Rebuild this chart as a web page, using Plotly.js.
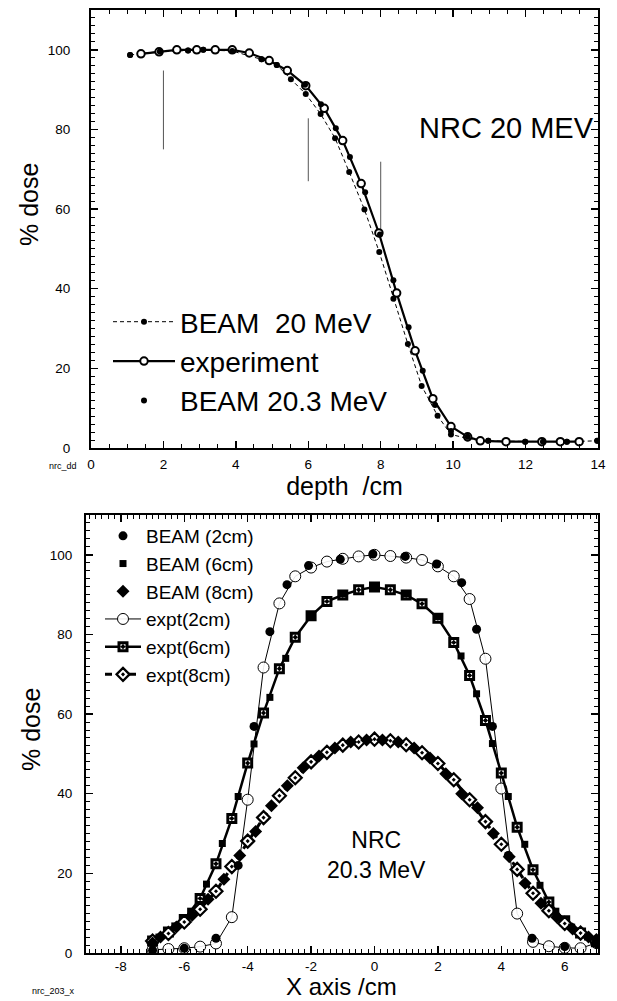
<!DOCTYPE html>
<html>
<head>
<meta charset="utf-8">
<script src="https://cdn.plot.ly/plotly-3.0.1.min.js"></script>
<style>html,body{margin:0;padding:0;background:#fff;}#chart{width:617px;height:1001px;}</style>
</head>
<body>
<div id="chart"></div>
<script>
// ---------- Top panel: depth-dose (NRC 20 MeV) ----------
const depthBeam20 = [1.08, 1.9, 2.68, 3.1, 3.9, 4.71, 5.13, 5.52, 5.93, 6.34, 6.74, 7.13, 7.55, 7.96, 8.35, 8.75, 9.13, 9.57, 9.94, 10.4, 10.97, 11.99, 12.48, 13.14, 13.98];
const doseBeam20  = [98.7, 99.6, 99.8, 100, 99.7, 97.6, 96.2, 92.6, 88.9, 83.9, 77.8, 69.3, 59.9, 49.2, 37.5, 26.1, 15.6, 8.1, 3.4, 2.4, 1.8, 1.6, 1.6, 1.6, 1.8];

const depthExpt = [1.38, 1.88, 2.37, 2.92, 3.43, 3.9, 4.37, 4.92, 5.42, 5.93, 6.44, 6.95, 7.46, 7.95, 8.44, 8.95, 9.44, 9.94, 10.4, 10.75, 11.46, 12.45, 12.96, 13.48];
const doseExpt  = [99.0, 99.5, 100, 100, 100, 100, 99.2, 97.3, 94.8, 91.0, 85.3, 77.2, 66.4, 54.0, 38.9, 24.4, 12.4, 5.4, 2.8, 1.8, 1.6, 1.6, 1.6, 1.6];

const depthBeam203 = [1.08, 1.9, 2.68, 3.1, 3.9, 4.71, 5.13, 5.91, 6.35, 6.76, 7.15, 7.57, 7.98, 8.35, 8.77, 9.16, 9.5, 9.94, 10.4, 10.97, 11.99, 12.48, 13.14, 13.98];
const doseBeam203  = [98.7, 99.6, 99.8, 100, 99.7, 97.6, 96.2, 91.2, 86.3, 80.3, 73.1, 64.2, 53.6, 42.1, 30.3, 19.4, 10.8, 4.3, 2.8, 1.8, 1.6, 1.6, 1.6, 1.8];

// thin vertical marks at the profile depths
const markDepth  = [2, 6, 8];
const markTop    = [94.8, 82.8, 71.9];
const markBottom = [75, 67, 53];

// ---------- Bottom panel: lateral profiles (NRC 20.3 MeV) ----------
const xExpt = [-7, -6.5, -6, -5.5, -5, -4.5, -4, -3.5, -3, -2.5, -2, -1.5, -1, -0.5, 0, 0.5, 1, 1.5, 2, 2.5, 3, 3.5, 4, 4.5, 5, 5.5, 6, 6.5, 7];
const expt2cm = [0.8, 1.0, 1.2, 1.6, 2.4, 9.0, 38.5, 71.7, 87.8, 94.6, 96.8, 98.3, 99.0, 99.6, 100, 99.7, 99.3, 98.7, 97.1, 94.6, 88.9, 73.9, 41.3, 9.9, 2.8, 1.7, 1.3, 1.2, 2.5];
const expt6cm = [3.0, 5.3, 8.4, 13.7, 22.4, 33.8, 47.7, 60.3, 71.4, 79.3, 84.7, 88.3, 89.9, 91.2, 91.9, 91.2, 89.9, 87.7, 84.1, 78.0, 69.7, 58.4, 45.2, 31.6, 20.9, 12.8, 8.1, 5.0, 2.8];
const expt8cm = [3.0, 4.9, 7.8, 11.0, 15.5, 21.7, 28.1, 34.0, 39.5, 44.0, 48.0, 50.4, 52.2, 53.0, 53.7, 53.3, 52.3, 50.3, 47.6, 43.5, 38.5, 33.0, 27.3, 21.0, 15.0, 10.6, 7.4, 5.0, 3.0];

const xBeam2cm = [-7, -6, -5, -4.3, -3.8, -3.3, -2.76, -2.08, -1.08, -0.05, 0.97, 1.96, 2.75, 3.22, 3.72, 4.22, 4.97, 6, 7];
const beam2cm  = [0.7, 1.2, 3.7, 22.0, 56.9, 80.7, 92.5, 97.3, 98.9, 100.2, 99.6, 97.7, 93.0, 81.3, 56.9, 24.5, 3.7, 1.6, 3.3];

const xBeam6cm = [-7, -6.8, -6.3, -5.8, -5.3, -4.8, -4.3, -3.8, -3.3, -2.8, -2, -1, 0, 1, 2, 2.73, 3.22, 3.72, 4.22, 4.74, 5.22, 5.72, 6.22, 6.72, 7];
const beam6cm  = [2.5, 4.0, 6.8, 10.5, 17.3, 27.5, 39.3, 52.5, 64.2, 74.0, 84.7, 90.2, 92.0, 90.2, 84.5, 74.6, 65.1, 52.6, 39.3, 27.3, 17.0, 10.5, 6.5, 4.0, 2.5];

const xBeam8cm = [-7, -6.75, -6.25, -5.75, -5.25, -4.75, -4.25, -3.75, -3.25, -2.75, -2.25, -1.75, -1.25, -0.75, -0.25, 0.25, 0.75, 1.25, 1.75, 2.25, 2.75, 3.25, 3.75, 4.25, 4.75, 5.25, 5.75, 6.25, 6.75, 7];
const beam8cm  = [2.5, 4.0, 6.5, 9.5, 13.5, 18.5, 24.5, 30.5, 37.0, 42.0, 46.5, 49.5, 51.5, 53.0, 53.5, 53.5, 53.0, 51.5, 49.0, 45.0, 40.0, 36.5, 30.0, 24.2, 17.5, 12.5, 9.0, 6.0, 4.0, 2.5];

// tick labels of the lateral axis (plain hyphen minus, as in the original)
const xProfileTickVals = [-8, -6, -4, -2, 0, 2, 4, 6];
const xProfileTickText = ['-8', '-6', '-4', '-2', '0', '2', '4', '6'];

// ---------- build ----------
const FONT = 'Liberation Sans, Arial, Helvetica, sans-serif';
const W = 617, H = 1001;
const px = v => v / W;
const py = v => 1 - v / H;

const markX = [], markY = [];
markDepth.forEach((d, i) => { markX.push(d, d, null); markY.push(markBottom[i], markTop[i], null); });

const traces = [
  {x: markX, y: markY, xaxis: 'x', yaxis: 'y', mode: 'lines', line: {color: '#555', width: 1}, showlegend: false, hoverinfo: 'skip'},
  {x: depthBeam20, y: doseBeam20, xaxis: 'x', yaxis: 'y', name: 'BEAM  20 MeV', mode: 'lines+markers',
   line: {color: '#000', width: 1, dash: '4px,3px'}, marker: {symbol: 'circle', size: 6, color: '#000'}, legend: 'legend', legendrank: 1},
  {x: depthExpt, y: doseExpt, xaxis: 'x', yaxis: 'y', name: 'experiment', mode: 'lines+markers',
   line: {color: '#000', width: 2.2}, marker: {symbol: 'circle', size: 7.5, color: '#fff', line: {color: '#000', width: 2}}, legend: 'legend', legendrank: 2},
  {x: depthBeam203, y: doseBeam203, xaxis: 'x', yaxis: 'y', name: 'BEAM 20.3 MeV', mode: 'markers',
   marker: {symbol: 'circle', size: 6, color: '#000'}, legend: 'legend', legendrank: 3},

  {x: xExpt, y: expt2cm, xaxis: 'x2', yaxis: 'y2', name: 'expt(2cm)', mode: 'lines+markers',
   line: {color: '#000', width: 1}, marker: {symbol: 'circle', size: 11, color: 'rgba(255,255,255,0.9)', line: {color: '#000', width: 1}}, legend: 'legend2', legendrank: 4},
  {x: xExpt, y: expt6cm, xaxis: 'x2', yaxis: 'y2', name: 'expt(6cm)', mode: 'lines+markers',
   line: {color: '#000', width: 2.5}, marker: {symbol: 'square-dot', size: 8, color: '#fff', line: {color: '#000', width: 3}}, legend: 'legend2', legendrank: 5},
  {x: xExpt, y: expt8cm, xaxis: 'x2', yaxis: 'y2', name: 'expt(8cm)', mode: 'lines+markers',
   line: {color: '#000', width: 3, dash: '7px,5px'}, marker: {symbol: 'diamond-dot', size: 10, color: '#fff', line: {color: '#000', width: 2.2}}, legend: 'legend2', legendrank: 6},
  {x: xBeam2cm, y: beam2cm, xaxis: 'x2', yaxis: 'y2', name: 'BEAM (2cm)', mode: 'markers',
   marker: {symbol: 'circle', size: 9, color: '#000'}, legend: 'legend2', legendrank: 1},
  {x: xBeam6cm, y: beam6cm, xaxis: 'x2', yaxis: 'y2', name: 'BEAM (6cm)', mode: 'markers',
   marker: {symbol: 'square', size: 7, color: '#000'}, legend: 'legend2', legendrank: 2},
  {x: xBeam8cm, y: beam8cm, xaxis: 'x2', yaxis: 'y2', name: 'BEAM (8cm)', mode: 'markers',
   marker: {symbol: 'diamond', size: 10, color: '#000'}, legend: 'legend2', legendrank: 3}
];

function axisBase(extra) {
  return Object.assign({
    showgrid: false, zeroline: false, showline: true, linecolor: '#000', linewidth: 2,
    mirror: 'allticks', ticks: 'inside', ticklen: 7, tickwidth: 1.5, tickcolor: '#000',
    tickmode: 'linear', tickfont: {family: FONT, size: 13.5, color: '#000'},
    fixedrange: true
  }, extra);
}

const layout = {
  width: W, height: H,
  margin: {l: 0, r: 0, t: 0, b: 0},
  paper_bgcolor: '#fff', plot_bgcolor: '#fff',
  font: {family: FONT, color: '#000'},
  xaxis: axisBase({domain: [px(91), px(598)], range: [0, 14], anchor: 'y', tick0: 0, dtick: 2,
    minor: {dtick: 0.5, ticks: 'inside', ticklen: 4, tickwidth: 1, tickcolor: '#000'},
    ticklabelstandoff: 3,
    title: {text: 'depth  /cm', font: {family: FONT, size: 25}, standoff: 0}}),
  yaxis: axisBase({domain: [py(448), py(10)], range: [0, 110], anchor: 'x', tick0: 0, dtick: 20,
    minor: {dtick: 2, ticks: 'inside', ticklen: 4, tickwidth: 1, tickcolor: '#000'},
    ticklabelstandoff: 16}),
  xaxis2: axisBase({domain: [px(86), px(598)], range: [-9.1, 7.05], anchor: 'y2',
    tickmode: 'array', tickvals: xProfileTickVals, ticktext: xProfileTickText,
    minor: {tickmode: 'linear', tick0: 0, dtick: 0.2, ticks: 'inside', ticklen: 4, tickwidth: 1, tickcolor: '#000'},
    ticklabelstandoff: 0}),
  yaxis2: axisBase({domain: [py(953), py(515)], range: [0, 110], anchor: 'x2', tick0: 0, dtick: 20,
    minor: {dtick: 2, ticks: 'inside', ticklen: 4, tickwidth: 1, tickcolor: '#000'},
    ticklabelstandoff: 9}),
  legend: {x: px(108), y: py(297), xanchor: 'left', yanchor: 'top', bgcolor: 'rgba(0,0,0,0)',
    font: {family: FONT, size: 28, color: '#000'}, itemwidth: 62, traceorder: 'normal'},
  legend2: {x: px(100), y: py(517), xanchor: 'left', yanchor: 'top', bgcolor: 'rgba(0,0,0,0)',
    font: {family: FONT, size: 19, color: '#000'}, itemwidth: 36, traceorder: 'normal'},
  annotations: [
    {text: '% dose', xref: 'paper', yref: 'paper', x: px(29), y: py(205), xanchor: 'center', yanchor: 'middle',
     textangle: -90, showarrow: false, font: {family: FONT, size: 25, color: '#000'}},
    {text: '% dose', xref: 'paper', yref: 'paper', x: px(31), y: py(730), xanchor: 'center', yanchor: 'middle',
     textangle: -90, showarrow: false, font: {family: FONT, size: 25, color: '#000'}},
    {text: 'X axis /cm', xref: 'paper', yref: 'paper', x: px(342), y: 0, xanchor: 'center', yanchor: 'bottom',
     borderpad: 0, showarrow: false, font: {family: FONT, size: 24, color: '#000'}},
    {text: 'NRC 20 MEV', xref: 'paper', yref: 'paper', x: px(596), y: py(128), xanchor: 'right', yanchor: 'middle',
     showarrow: false, font: {family: FONT, size: 29, color: '#000'}},
    {text: 'NRC<br>20.3 MeV', xref: 'x2', yref: 'y2', x: 0.05, y: 24.5, xanchor: 'center', yanchor: 'middle',
     showarrow: false, font: {family: FONT, size: 23, color: '#000'}},
    {text: 'nrc_dd', xref: 'paper', yref: 'paper', x: px(47), y: py(466), xanchor: 'left', yanchor: 'middle',
     showarrow: false, font: {family: FONT, size: 9, color: '#000'}},
    {text: 'nrc_203_x', xref: 'paper', yref: 'paper', x: px(30), y: py(991), xanchor: 'left', yanchor: 'middle',
     showarrow: false, font: {family: FONT, size: 9, color: '#000'}}
  ]
};

Plotly.newPlot('chart', traces, layout, {displayModeBar: false, staticPlot: true});
</script>
</body>
</html>
